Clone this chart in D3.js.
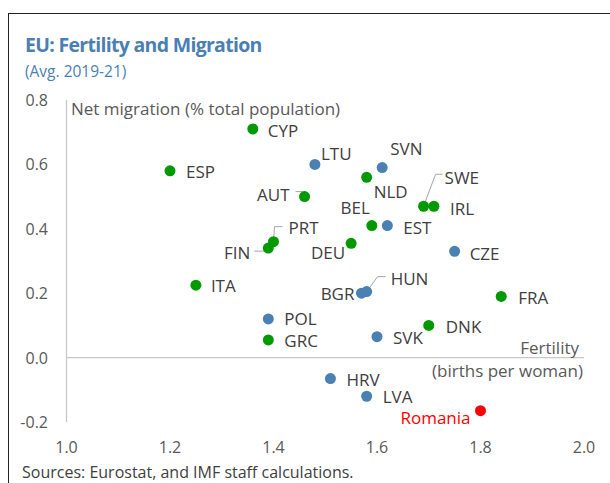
<!DOCTYPE html>
<html>
<head>
<meta charset="utf-8">
<script src="https://cdn.jsdelivr.net/npm/d3@7"></script>
<style>
  body { margin: 0; background: #fff; }
  svg { display: block; font-family: "Open Sans", "Noto Sans", sans-serif; }
</style>
</head>
<body>
<div id="chart"></div>
<script>
// - - - data - - -
var countries = ["CYP","ESP","AUT","PRT","FIN","LTU","SVN","NLD","SWE","IRL","BEL","EST","DEU","CZE",
                 "ITA","POL","GRC","BGR","HUN","FRA","DNK","SVK","HRV","LVA","Romania"];
var fertility = [1.36,1.20,1.46,1.40,1.39,1.48,1.61,1.58,1.69,1.71,1.59,1.62,1.55,1.75,
                 1.25,1.39,1.39,1.57,1.58,1.84,1.70,1.60,1.51,1.58,1.80];
var migration = [0.71,0.58,0.50,0.36,0.34,0.60,0.59,0.56,0.47,0.47,0.41,0.41,0.355,0.33,
                 0.225,0.12,0.055,0.20,0.205,0.19,0.10,0.065,-0.065,-0.12,-0.165];
var group = ["g","g","g","g","g","b","b","g","g","g","g","b","g","b",
             "g","b","g","b","b","g","g","b","b","b","r"];
var xTicks = [1.0, 1.2, 1.4, 1.6, 1.8, 2.0];
var yTicks = [-0.2, 0.0, 0.2, 0.4, 0.6, 0.8];

// label placement (pixels from the dot)
var labelPos = {
  CYP:[15,2,"start"], ESP:[16,1,"start"], AUT:[-15,-2,"end"], PRT:[15,-14,"start"],
  FIN:[-18,4,"end"], LTU:[6,-11,"start"], SVN:[8,-19,"start"], NLD:[7,14,"start"],
  SWE:[21,-29,"start"], IRL:[16,2,"start"], BEL:[-2,-18,"end"], EST:[16,2,"start"],
  DEU:[-6,9,"end"], CZE:[15,2,"start"], ITA:[15,0,"start"], POL:[16,0,"start"],
  GRC:[16,1,"start"], BGR:[-7,0,"end"], HUN:[24,-13,"start"], FRA:[17,1,"start"],
  DNK:[17,1,"start"], SVK:[16,1,"start"], HRV:[16,1,"start"], LVA:[16,0,"start"],
  Romania:[-10,7,"end"]
};
// leader lines: elbow and end, pixels from the dot
var leaders = {
  AUT:[[-2,-5],[-9,-5]],
  PRT:[[1,-15],[9,-15]],
  FIN:[[-4,3],[-14,3]],
  SWE:[[12,-32],[19,-32]],
  HUN:[[11,-15],[19,-15]]
};
var colors = { g: "#009a00", b: "#4a80b2", r: "#ff0000" };

var width = 610, height = 483;
var svg = d3.select("#chart").append("svg")
  .attr("width", width).attr("height", height);

// frame
svg.append("rect")
  .attr("x", 8.5).attr("y", 13.5).attr("width", 700).attr("height", 600)
  .attr("fill", "none").attr("stroke", "#222").attr("stroke-width", 1);

// title
svg.append("text").attr("x", 25).attr("y", 52)
  .attr("font-size", 19.5).attr("font-weight", "bold").attr("fill", "#4a7fb5")
  .attr("letter-spacing", -0.7)
  .text("EU: Fertility and Migration");
svg.append("text").attr("x", 25).attr("y", 77)
  .attr("font-size", 15.5).attr("fill", "#4a7fb5")
  .text("(Avg. 2019-21)");

var x = d3.scaleLinear().domain([1.0, 2.0]).range([66.5, 584]);
var y = d3.scaleLinear().domain([-0.2, 0.8]).range([422, 100]);

// y axis line
svg.append("line")
  .attr("x1", x(1.0)).attr("x2", x(1.0)).attr("y1", y(0.8)).attr("y2", y(-0.2))
  .attr("stroke", "#c8c8c8").attr("stroke-width", 1.3);
// zero line
svg.append("line")
  .attr("x1", x(1.0)).attr("x2", x(2.0)).attr("y1", y(0)).attr("y2", y(0))
  .attr("stroke", "#c8c8c8").attr("stroke-width", 1.3);

// tick labels
svg.selectAll(".ytick").data(yTicks).enter().append("text")
  .attr("x", 48).attr("y", function(d) { return y(d); })
  .attr("text-anchor", "end").attr("dominant-baseline", "central")
  .attr("font-size", 16).attr("fill", "#595959")
  .text(function(d) { return d3.format(".1f")(d).replace("−", "-"); });
svg.selectAll(".xtick").data(xTicks).enter().append("text")
  .attr("x", function(d) { return x(d); }).attr("y", 447)
  .attr("text-anchor", "middle").attr("dominant-baseline", "central")
  .attr("font-size", 16).attr("fill", "#595959")
  .text(function(d) { return d3.format(".1f")(d); });

// axis titles
svg.append("text").attr("x", 71).attr("y", 108)
  .attr("dominant-baseline", "central").attr("font-size", 17).attr("fill", "#595959")
  .text("Net migration (% total population)");
svg.append("text").attr("x", 579).attr("y", 347)
  .attr("text-anchor", "end").attr("dominant-baseline", "central")
  .attr("font-size", 17).attr("fill", "#595959").text("Fertility");
svg.append("text").attr("x", 583).attr("y", 370)
  .attr("text-anchor", "end").attr("dominant-baseline", "central")
  .attr("font-size", 17).attr("fill", "#595959").text("(births per woman)");

var idx = d3.range(countries.length);

// leader lines
svg.selectAll(".leader").data(idx.filter(function(i) { return leaders[countries[i]]; }))
  .enter().append("polyline")
  .attr("points", function(i) {
    var px = x(fertility[i]), py = y(migration[i]), l = leaders[countries[i]];
    return [[px, py], [px + l[0][0], py + l[0][1]], [px + l[1][0], py + l[1][1]]].join(" ");
  })
  .attr("fill", "none").attr("stroke", "#a6a6a6").attr("stroke-width", 1);

// dots
svg.selectAll(".dot").data(idx).enter().append("circle")
  .attr("cx", function(i) { return x(fertility[i]); })
  .attr("cy", function(i) { return y(migration[i]); })
  .attr("r", 5.5)
  .attr("fill", function(i) { return colors[group[i]]; });

// labels
svg.selectAll(".lbl").data(idx).enter().append("text")
  .attr("x", function(i) { return x(fertility[i]) + labelPos[countries[i]][0]; })
  .attr("y", function(i) { return y(migration[i]) + labelPos[countries[i]][1]; })
  .attr("text-anchor", function(i) { return labelPos[countries[i]][2]; })
  .attr("dominant-baseline", "central")
  .attr("font-size", 17)
  .attr("fill", function(i) { return group[i] === "r" ? "#ff0000" : "#404040"; })
  .text(function(i) { return countries[i]; });

// source
svg.append("text").attr("x", 22).attr("y", 472)
  .attr("dominant-baseline", "central").attr("font-size", 16).attr("fill", "#404040")
  .text("Sources: Eurostat, and IMF staff calculations.");
</script>
</body>
</html>
